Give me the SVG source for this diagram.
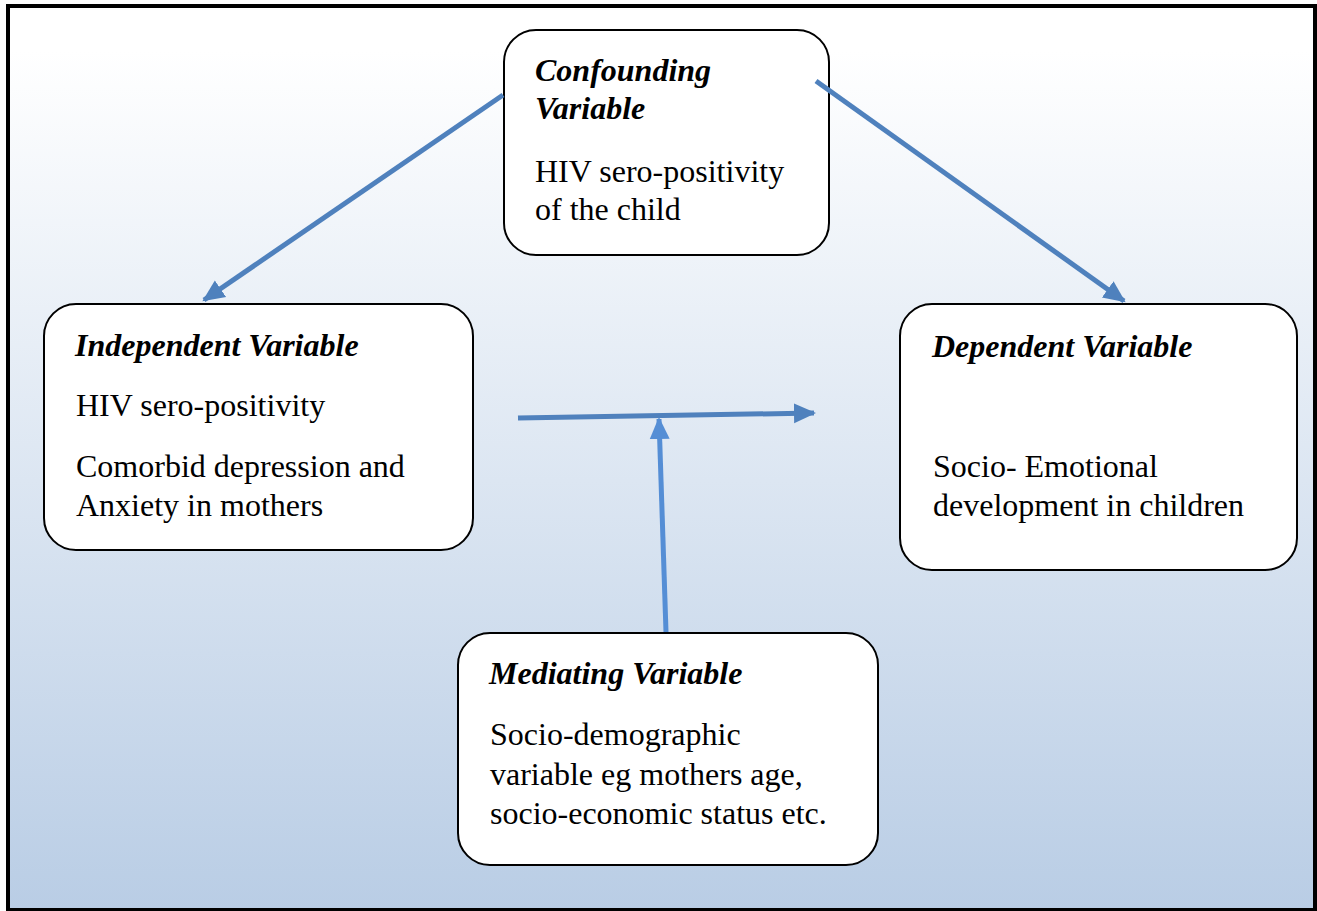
<svg xmlns="http://www.w3.org/2000/svg" width="1317" height="911" viewBox="0 0 1317 911">
<defs>
<linearGradient id="bg" x1="0" y1="0" x2="0" y2="1">
<stop offset="0" stop-color="#ffffff"/>
<stop offset="0.05" stop-color="#ffffff"/>
<stop offset="1" stop-color="#b9cde5"/>
</linearGradient>
<marker id="ah" markerUnits="userSpaceOnUse" markerWidth="24" markerHeight="24" viewBox="0 0 24 24" refX="20" refY="12" orient="auto">
<path d="M0,2 L22,12 L0,22 Z" fill="#4f81bd"/>
</marker>
<marker id="ah2" markerUnits="userSpaceOnUse" markerWidth="24" markerHeight="24" viewBox="0 0 24 24" refX="20" refY="12" orient="auto">
<path d="M0,2 L22,12 L0,22 Z" fill="#558ed5"/>
</marker>
</defs>
<style>
.box{fill:#ffffff;stroke:#000000;stroke-width:2}
.t{font-family:"Liberation Serif","Times New Roman",serif;font-size:32px;fill:#000000}
.h{font-weight:bold;font-style:italic}
.c{fill:none;stroke:#4f81bd;stroke-width:5}
</style>
<rect x="8" y="6" width="1307" height="904" fill="url(#bg)" stroke="#000000" stroke-width="4"/>
<g id="confounding">
<rect class="box" x="504" y="30" width="325" height="225" rx="32"/>
<text class="t h" x="535" y="81">Confounding</text>
<text class="t h" x="535" y="119">Variable</text>
<text class="t" x="535" y="182">HIV sero-positivity</text>
<text class="t" x="535" y="220">of the child</text>
</g>
<g id="independent">
<rect class="box" x="44" y="304" width="429" height="246" rx="32"/>
<text class="t h" x="75" y="356">Independent Variable</text>
<text class="t" x="76" y="416">HIV sero-positivity</text>
<text class="t" x="76" y="477">Comorbid depression and</text>
<text class="t" x="76" y="516">Anxiety in mothers</text>
</g>
<g id="dependent">
<rect class="box" x="900" y="304" width="397" height="266" rx="32"/>
<text class="t h" x="932" y="357">Dependent Variable</text>
<text class="t" x="933" y="477">Socio- Emotional</text>
<text class="t" x="933" y="516">development in children</text>
</g>
<g id="mediating">
<rect class="box" x="458" y="633" width="420" height="232" rx="32"/>
<text class="t h" x="489" y="684">Mediating Variable</text>
<text class="t" x="490" y="745">Socio-demographic</text>
<text class="t" x="490" y="785">variable eg mothers age,</text>
<text class="t" x="490" y="824">socio-economic status etc.</text>
</g>
<g id="connectors">
<line class="c" x1="503" y1="95" x2="204" y2="300" marker-end="url(#ah)"/>
<line class="c" x1="816" y1="81" x2="1124" y2="301" marker-end="url(#ah)"/>
<line class="c" x1="518" y1="418" x2="814" y2="413" marker-end="url(#ah)"/>
<line class="c" x1="666" y1="632" x2="659" y2="419" marker-end="url(#ah2)" style="stroke:#558ed5"/>
</g>
</svg>
